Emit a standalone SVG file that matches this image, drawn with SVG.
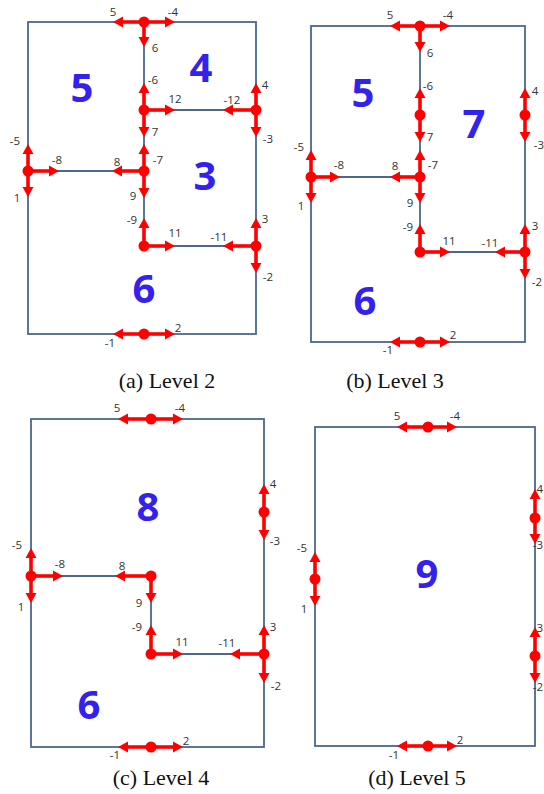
<svg xmlns="http://www.w3.org/2000/svg" width="544" height="794" viewBox="0 0 544 794">
<style>
.wall{fill:none;stroke:#4a6892;stroke-width:1.8}
.arr{stroke:#ff0000;stroke-width:3.6;marker-end:url(#ah)}
.dot{fill:#ff0000}
.lb{font-family:"Open Sans","DejaVu Sans",sans-serif;font-size:11.5px;fill:#333;text-anchor:middle}
.lbe{font-family:"Open Sans","DejaVu Sans",sans-serif;font-size:11.5px;fill:#333;text-anchor:end}
.big{font-family:"Open Sans","DejaVu Sans",sans-serif;font-size:40px;font-weight:bold;fill:#3322ee;text-anchor:middle}
.cap{font-family:"Liberation Serif","Times New Roman",serif;font-size:22px;fill:#111;text-anchor:middle}
</style>
<defs>
<marker id="ah" markerUnits="userSpaceOnUse" markerWidth="12" markerHeight="12" refX="3" refY="6" orient="auto">
<path d="M0,0.5 L10,6 L0,11.5 z" fill="#ff0000"/>
</marker>
</defs>
<rect width="544" height="794" fill="#fff"/>

<!-- ===== Panel (a) ===== -->
<g id="walls-a">
<rect class="wall" x="28" y="22" width="228" height="312"/>
<path class="wall" d="M144,22 V246 M144,110 H256 M28,171 H144 M144,246 H256"/>
</g>
<g id="connectors-a">
<line class="arr" x1="144" y1="22" x2="120" y2="22"/><line class="arr" x1="144" y1="22" x2="168" y2="22"/><line class="arr" x1="144" y1="22" x2="144" y2="40"/>
<line class="arr" x1="144" y1="110" x2="144" y2="90"/><line class="arr" x1="144" y1="110" x2="168" y2="110"/><line class="arr" x1="144" y1="110" x2="144" y2="130"/>
<line class="arr" x1="256" y1="110" x2="256" y2="90"/><line class="arr" x1="256" y1="110" x2="230" y2="110"/><line class="arr" x1="256" y1="110" x2="256" y2="130"/>
<line class="arr" x1="28" y1="171" x2="28" y2="151"/><line class="arr" x1="28" y1="171" x2="52" y2="171"/><line class="arr" x1="28" y1="171" x2="28" y2="190"/>
<line class="arr" x1="144" y1="171" x2="144" y2="151"/><line class="arr" x1="144" y1="171" x2="119" y2="171"/><line class="arr" x1="144" y1="171" x2="144" y2="191"/>
<line class="arr" x1="144" y1="246" x2="144" y2="225"/><line class="arr" x1="144" y1="246" x2="168" y2="246"/>
<line class="arr" x1="256" y1="246" x2="256" y2="225"/><line class="arr" x1="256" y1="246" x2="230" y2="246"/><line class="arr" x1="256" y1="246" x2="256" y2="266"/>
<line class="arr" x1="144" y1="334" x2="120" y2="334"/><line class="arr" x1="144" y1="334" x2="168" y2="334"/>
</g>
<g id="node-a1"><circle class="dot" cx="144" cy="22" r="5.5"/></g>
<g id="node-a2"><circle class="dot" cx="144" cy="110" r="5.5"/></g>
<g id="node-a3"><circle class="dot" cx="256" cy="110" r="5.5"/></g>
<g id="node-a4"><circle class="dot" cx="28" cy="171" r="5.5"/></g>
<g id="node-a5"><circle class="dot" cx="144" cy="171" r="5.5"/></g>
<g id="node-a6"><circle class="dot" cx="144" cy="246" r="5.5"/></g>
<g id="node-a7"><circle class="dot" cx="256" cy="246" r="5.5"/></g>
<g id="node-a8"><circle class="dot" cx="144" cy="334" r="5.5"/></g>
<g id="labels-a">
<text class="lb" x="113" y="16">5</text><text class="lb" x="173" y="16">-4</text>
<text class="lb" x="155" y="52">6</text><text class="lb" x="153" y="84">-6</text>
<text class="lb" x="175" y="103">12</text><text class="lb" x="232" y="104">-12</text>
<text class="lb" x="265" y="89">4</text><text class="lb" x="268" y="143">-3</text>
<text class="lb" x="155" y="136">7</text><text class="lb" x="158" y="164">-7</text>
<text class="lb" x="117" y="166">8</text><text class="lb" x="57" y="164">-8</text>
<text class="lb" x="15" y="145">-5</text><text class="lb" x="17" y="202">1</text>
<text class="lb" x="133" y="200">9</text><text class="lb" x="132" y="224">-9</text>
<text class="lb" x="175" y="237">11</text><text class="lb" x="219" y="241">-11</text>
<text class="lb" x="265" y="223">3</text><text class="lb" x="268" y="281">-2</text>
<text class="lb" x="178" y="332">2</text><text class="lb" x="110" y="347">-1</text>
</g>
<g id="region-a5"><text class="big" x="82" y="102">5</text></g>
<g id="region-a4"><text class="big" x="201" y="82">4</text></g>
<g id="region-a3"><text class="big" x="205" y="190">3</text></g>
<g id="region-a6"><text class="big" x="144" y="303">6</text></g>
<text class="cap" x="167" y="388">(a) Level 2</text>

<!-- ===== Panel (b) ===== -->
<g id="walls-b">
<rect class="wall" x="311" y="26" width="214" height="316"/>
<path class="wall" d="M420,26 V252 M311,177 H420 M420,252 H525"/>
</g>
<g id="connectors-b">
<line class="arr" x1="420" y1="26" x2="397" y2="26"/><line class="arr" x1="420" y1="26" x2="443" y2="26"/><line class="arr" x1="420" y1="26" x2="420" y2="45"/>
<line class="arr" x1="420" y1="115" x2="420" y2="95"/><line class="arr" x1="420" y1="115" x2="420" y2="135"/>
<line class="arr" x1="525" y1="115" x2="525" y2="95"/><line class="arr" x1="525" y1="115" x2="525" y2="135"/>
<line class="arr" x1="311" y1="177" x2="311" y2="157"/><line class="arr" x1="311" y1="177" x2="333" y2="177"/><line class="arr" x1="311" y1="177" x2="311" y2="196"/>
<line class="arr" x1="420" y1="177" x2="420" y2="157"/><line class="arr" x1="420" y1="177" x2="397" y2="177"/><line class="arr" x1="420" y1="177" x2="420" y2="196"/>
<line class="arr" x1="420" y1="252" x2="420" y2="231"/><line class="arr" x1="420" y1="252" x2="443" y2="252"/>
<line class="arr" x1="525" y1="252" x2="525" y2="231"/><line class="arr" x1="525" y1="252" x2="502" y2="252"/><line class="arr" x1="525" y1="252" x2="525" y2="272"/>
<line class="arr" x1="420" y1="342" x2="397" y2="342"/><line class="arr" x1="420" y1="342" x2="443" y2="342"/>
</g>
<g id="node-b1"><circle class="dot" cx="420" cy="26" r="5.5"/></g>
<g id="node-b2"><circle class="dot" cx="420" cy="115" r="5.5"/></g>
<g id="node-b3"><circle class="dot" cx="525" cy="115" r="5.5"/></g>
<g id="node-b4"><circle class="dot" cx="311" cy="177" r="5.5"/></g>
<g id="node-b5"><circle class="dot" cx="420" cy="177" r="5.5"/></g>
<g id="node-b6"><circle class="dot" cx="420" cy="252" r="5.5"/></g>
<g id="node-b7"><circle class="dot" cx="525" cy="252" r="5.5"/></g>
<g id="node-b8"><circle class="dot" cx="420" cy="342" r="5.5"/></g>
<g id="labels-b">
<text class="lb" x="390" y="19">5</text><text class="lb" x="448" y="19">-4</text>
<text class="lb" x="430" y="57">6</text><text class="lb" x="428" y="90">-6</text>
<text class="lb" x="535" y="95">4</text><text class="lb" x="539" y="149">-3</text>
<text class="lb" x="430" y="141">7</text><text class="lb" x="433" y="169">-7</text>
<text class="lb" x="395" y="170">8</text><text class="lb" x="339" y="169">-8</text>
<text class="lb" x="299" y="151">-5</text><text class="lb" x="301" y="210">1</text>
<text class="lb" x="410" y="207">9</text><text class="lb" x="408" y="231">-9</text>
<text class="lb" x="449" y="245">11</text><text class="lb" x="490" y="247">-11</text>
<text class="lb" x="535" y="230">3</text><text class="lb" x="537" y="286">-2</text>
<text class="lb" x="453" y="339">2</text><text class="lb" x="388" y="354">-1</text>
</g>
<g id="region-b5"><text class="big" x="363" y="107">5</text></g>
<g id="region-b7"><text class="big" x="474" y="138">7</text></g>
<g id="region-b6"><text class="big" x="365" y="315">6</text></g>
<text class="cap" x="395" y="388">(b) Level 3</text>

<!-- ===== Panel (c) ===== -->
<g id="walls-c">
<rect class="wall" x="31" y="419" width="233" height="328"/>
<path class="wall" d="M31,576 H151 V654 H264"/>
</g>
<g id="connectors-c">
<line class="arr" x1="151" y1="419" x2="125" y2="419"/><line class="arr" x1="151" y1="419" x2="176" y2="419"/>
<line class="arr" x1="264" y1="512" x2="264" y2="491"/><line class="arr" x1="264" y1="512" x2="264" y2="533"/>
<line class="arr" x1="31" y1="576" x2="31" y2="555"/><line class="arr" x1="31" y1="576" x2="56" y2="576"/><line class="arr" x1="31" y1="576" x2="31" y2="596"/>
<line class="arr" x1="151" y1="576" x2="122" y2="576"/><line class="arr" x1="151" y1="576" x2="151" y2="596"/>
<line class="arr" x1="151" y1="654" x2="151" y2="632"/><line class="arr" x1="151" y1="654" x2="176" y2="654"/>
<line class="arr" x1="264" y1="654" x2="264" y2="632"/><line class="arr" x1="264" y1="654" x2="237" y2="654"/><line class="arr" x1="264" y1="654" x2="264" y2="676"/>
<line class="arr" x1="151" y1="747" x2="125" y2="747"/><line class="arr" x1="151" y1="747" x2="176" y2="747"/>
</g>
<g id="node-c1"><circle class="dot" cx="151" cy="419" r="5.5"/></g>
<g id="node-c2"><circle class="dot" cx="264" cy="512" r="5.5"/></g>
<g id="node-c3"><circle class="dot" cx="31" cy="576" r="5.5"/></g>
<g id="node-c4"><circle class="dot" cx="151" cy="576" r="5.5"/></g>
<g id="node-c5"><circle class="dot" cx="151" cy="654" r="5.5"/></g>
<g id="node-c6"><circle class="dot" cx="264" cy="654" r="5.5"/></g>
<g id="node-c7"><circle class="dot" cx="151" cy="747" r="5.5"/></g>
<g id="labels-c">
<text class="lb" x="117" y="412">5</text><text class="lb" x="180" y="412">-4</text>
<text class="lb" x="273" y="488">4</text><text class="lb" x="275" y="545">-3</text>
<text class="lb" x="17" y="549">-5</text><text class="lb" x="60" y="568">-8</text>
<text class="lb" x="122" y="570">8</text><text class="lb" x="21" y="611">1</text>
<text class="lb" x="139" y="607">9</text><text class="lb" x="137" y="631">-9</text>
<text class="lb" x="182" y="646">11</text><text class="lb" x="227" y="647">-11</text>
<text class="lb" x="273" y="631">3</text><text class="lb" x="276" y="690">-2</text>
<text class="lb" x="186" y="745">2</text><text class="lb" x="115" y="759">-1</text>
</g>
<g id="region-c8"><text class="big" x="148" y="521">8</text></g>
<g id="region-c6"><text class="big" x="89" y="719">6</text></g>
<text class="cap" x="161" y="785">(c) Level 4</text>

<!-- ===== Panel (d) ===== -->
<g id="walls-d">
<rect class="wall" x="315" y="427" width="220" height="319"/>
</g>
<g id="connectors-d">
<line class="arr" x1="428" y1="427" x2="404" y2="427"/><line class="arr" x1="428" y1="427" x2="450" y2="427"/>
<line class="arr" x1="535" y1="518" x2="535" y2="496"/><line class="arr" x1="535" y1="518" x2="535" y2="537"/>
<line class="arr" x1="315" y1="579" x2="315" y2="559"/><line class="arr" x1="315" y1="579" x2="315" y2="599"/>
<line class="arr" x1="535" y1="656" x2="535" y2="634"/><line class="arr" x1="535" y1="656" x2="535" y2="676"/>
<line class="arr" x1="428" y1="746" x2="404" y2="746"/><line class="arr" x1="428" y1="746" x2="450" y2="746"/>
</g>
<g id="node-d1"><circle class="dot" cx="428" cy="427" r="5.5"/></g>
<g id="node-d2"><circle class="dot" cx="535" cy="518" r="5.5"/></g>
<g id="node-d3"><circle class="dot" cx="315" cy="579" r="5.5"/></g>
<g id="node-d4"><circle class="dot" cx="535" cy="656" r="5.5"/></g>
<g id="node-d5"><circle class="dot" cx="428" cy="746" r="5.5"/></g>
<g id="labels-d">
<text class="lb" x="397" y="420">5</text><text class="lb" x="455" y="420">-4</text>
<text class="lbe" x="543" y="493">4</text><text class="lbe" x="543" y="549">-3</text>
<text class="lb" x="302" y="552">-5</text><text class="lb" x="304" y="613">1</text>
<text class="lbe" x="543" y="632">3</text><text class="lbe" x="543" y="691">-2</text>
<text class="lb" x="460" y="744">2</text><text class="lb" x="394" y="759">-1</text>
</g>
<g id="region-d9"><text class="big" x="427" y="588">9</text></g>
<text class="cap" x="417" y="785">(d) Level 5</text>
</svg>
